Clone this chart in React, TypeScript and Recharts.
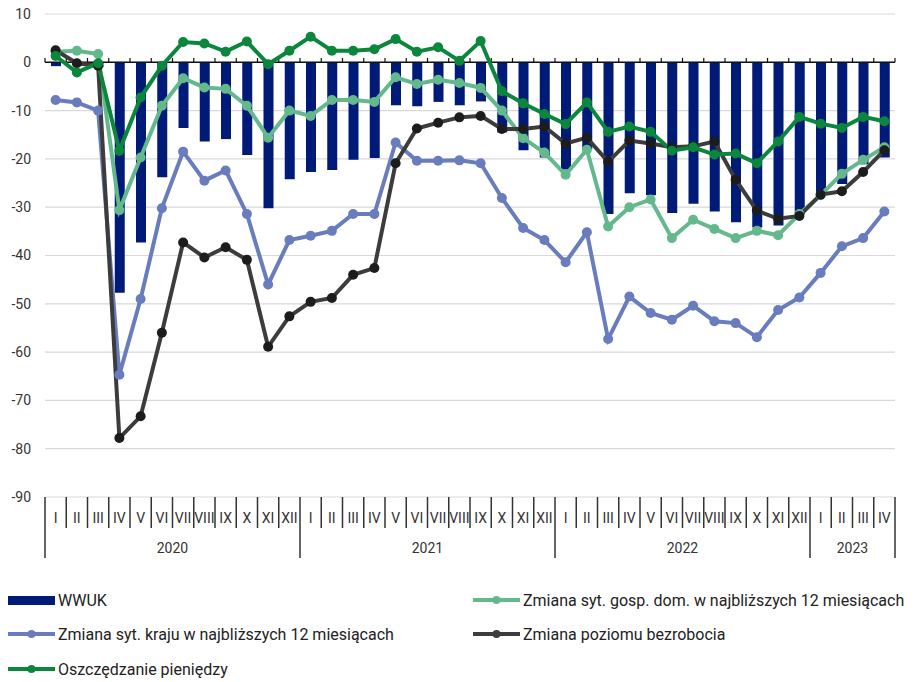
import { ComposedChart, Bar, Line, XAxis, YAxis, CartesianGrid, ReferenceLine } from 'recharts'

const monthLabels = [
  'I', 'II', 'III', 'IV', 'V', 'VI', 'VII', 'VIII', 'IX', 'X', 'XI', 'XII',
  'I', 'II', 'III', 'IV', 'V', 'VI', 'VII', 'VIII', 'IX', 'X', 'XI', 'XII',
  'I', 'II', 'III', 'IV', 'V', 'VI', 'VII', 'VIII', 'IX', 'X', 'XI', 'XII',
  'I', 'II', 'III', 'IV',
]
const years = ['2020', '2021', '2022', '2023']
const monthsPerYear = [12, 12, 12, 4]

const wwuk = [
  -0.8, -0.5, -1, -47.7, -37.3, -23.8, -13.6, -16.4, -15.9, -19.2, -30.2, -24.2,
  -22.7, -22.3, -20.2, -19.8, -8.9, -9.1, -8.2, -8.9, -8.1, -14.5, -18.2, -19.7,
  -22.2, -18.0, -31.4, -27.1, -27.5, -31.2, -29.3, -30.9, -33.1, -34.2, -33.8, -31.5,
  -27.0, -25.2, -21.1, -19.7,
]
const gospDom = [
  2.2, 2.4, 1.7, -30.6, -19.7, -9.0, -3.3, -5.2, -5.5, -9.0, -15.6, -10.0,
  -11.1, -7.8, -7.8, -8.2, -3.1, -4.5, -3.6, -4.3, -5.3, -10.0, -15.7, -18.7,
  -23.3, -18.1, -34.0, -30.0, -28.4, -36.4, -32.6, -34.5, -36.4, -34.9, -35.8, -31.4,
  -27.5, -23.1, -20.2, -17.6,
]
const kraj = [
  -7.8, -8.3, -10.0, -64.7, -49.0, -30.2, -18.5, -24.5, -22.4, -31.4, -46.0, -36.8,
  -35.9, -34.9, -31.4, -31.4, -16.6, -20.4, -20.4, -20.3, -20.9, -28.1, -34.3, -36.8,
  -41.4, -35.2, -57.3, -48.5, -51.9, -53.3, -50.4, -53.6, -54.0, -56.9, -51.3, -48.7,
  -43.6, -38.1, -36.4, -30.9,
]
const bezrobocie = [
  2.5, -0.2, -0.7, -77.8, -73.3, -56.0, -37.3, -40.4, -38.3, -40.9, -58.9, -52.6,
  -49.6, -48.8, -44.0, -42.6, -20.9, -13.7, -12.5, -11.4, -11.1, -13.8, -13.8, -13.3,
  -16.8, -15.6, -20.6, -16.2, -16.8, -17.6, -17.4, -16.4, -24.3, -30.7, -32.4, -31.8,
  -27.4, -26.7, -22.7, -18.2,
]
const oszczedzanie = [
  1.3, -2.1, -0.2, -18.3, -7.3, -0.7, 4.2, 3.9, 2.2, 4.3, -0.4, 2.4,
  5.3, 2.4, 2.4, 2.7, 4.8, 2.2, 3.1, 0.3, 4.4, -6.0, -8.5, -10.7,
  -12.8, -8.3, -14.4, -13.3, -14.4, -18.3, -17.6, -19.1, -18.9, -20.9, -16.4, -11.3,
  -12.7, -13.6, -11.3, -12.2,
]

const yTicks = [-90, -80, -70, -60, -50, -40, -30, -20, -10, 0, 10]

const C_BAR = '#001a78'
const C_GOSP = '#64b98c'
const C_KRAJ = '#687cbe'
const C_BEZR = '#3c3c3c'
const C_OSZ = '#0a873c'
const FONT = 'Roboto, "Noto Sans", sans-serif'

// one slot per month on a numeric axis, x = middle of the slot
const data = monthLabels.map((m, i) => ({
  x: i + 0.5,
  month: m,
  wwuk: wwuk[i],
  gospDom: gospDom[i],
  kraj: kraj[i],
  bezrobocie: bezrobocie[i],
  oszczedzanie: oszczedzanie[i],
}))

const yearEdges: number[] = [0]
const yearMids: { pos: number; label: string }[] = []
monthsPerYear.forEach((n, i) => {
  const start = yearEdges[yearEdges.length - 1]
  yearMids.push({ pos: start + n / 2, label: years[i] })
  yearEdges.push(start + n)
})
const nMonths = monthLabels.length
const edges = Array.from({ length: nMonths + 1 }, (_, k) => k)
const xTicks = Array.from({ length: nMonths * 2 + 1 }, (_, k) => k / 2)

function MonthTick(props: any) {
  const { x, y, payload } = props
  const v = payload.value
  if (Number.isInteger(v)) {
    const isYearEdge = yearEdges.includes(v)
    const year = yearMids.find((d) => d.pos === v)
    return (
      <g>
        <line x1={x} x2={x} y1={y} y2={y + (isYearEdge ? 61 : 31)} stroke="#333" strokeWidth={1.5} />
        {year && (
          <text x={x} y={y + 56} textAnchor="middle" fontSize={14} fill="#333" fontFamily={FONT}>
            {year.label}
          </text>
        )}
      </g>
    )
  }
  return (
    <text x={x} y={y + 26} textAnchor="middle" fontSize={14} fill="#333" fontFamily={FONT}>
      {monthLabels[Math.floor(v)]}
    </text>
  )
}

function LegendIcon({ color, bar }: { color: string; bar?: boolean }) {
  return (
    <svg width={50} height={12} style={{ display: 'block', flex: 'none' }}>
      {bar ? (
        <rect x={0} y={2} width={47} height={9} fill={color} />
      ) : (
        <>
          <line x1={0} x2={47} y1={6} y2={6} stroke={color} strokeWidth={4} />
          <circle cx={23.5} cy={6} r={4} fill={color} />
        </>
      )}
    </svg>
  )
}

function LegendItem({ color, label, bar, left, top }: { color: string; label: string; bar?: boolean; left: number; top: number }) {
  return (
    <div style={{ position: 'absolute', left, top, display: 'flex', alignItems: 'center', height: 20 }}>
      <LegendIcon color={color} bar={bar} />
      <span style={{ fontFamily: FONT, fontSize: 16, color: '#222', whiteSpace: 'nowrap', marginLeft: 0 }}>{label}</span>
    </div>
  )
}

export default function App() {
  return (
    <div style={{ position: 'absolute', left: 0, top: 0, width: 920, height: 682, background: '#fff' }}>
      <ComposedChart width={920} height={567} data={data} margin={{ top: 14, right: 25, bottom: 0, left: 0 }}>
        <CartesianGrid vertical={false} stroke="#d9d9d9" strokeWidth={1.2} />
        <XAxis
          dataKey="x"
          type="number"
          domain={[0, nMonths]}
          ticks={xTicks}
          interval={0}
          height={70}
          axisLine={false}
          tickLine={false}
          tickSize={0}
          tickMargin={0}
          tick={<MonthTick />}
        />
        <YAxis
          domain={[-90, 10]}
          ticks={yTicks}
          interval={0}
          width={45}
          axisLine={false}
          tickLine={false}
          tickMargin={8}
          tick={{ fontSize: 14, fill: '#333', fontFamily: FONT }}
        />
        <Bar dataKey="wwuk" name="WWUK" fill={C_BAR} barSize={10} isAnimationActive={false} />
        <ReferenceLine y={0} stroke="#111" strokeWidth={1.5} />
        {edges.map((k) => (
          <ReferenceLine
            key={k}
            segment={[{ x: k, y: 0 }, { x: k, y: 0.9 }]}
            stroke="#111"
            strokeWidth={1.2}
            ifOverflow="visible"
          />
        ))}
        <Line
          dataKey="kraj"
          name="Zmiana syt. kraju w najbliższych 12 miesiącach"
          stroke={C_KRAJ}
          strokeWidth={4}
          dot={{ r: 5, fill: C_KRAJ, stroke: C_KRAJ, strokeWidth: 0 }}
          isAnimationActive={false}
        />
        <Line
          dataKey="gospDom"
          name="Zmiana syt. gosp. dom. w najbliższych 12 miesiącach"
          stroke={C_GOSP}
          strokeWidth={4}
          dot={{ r: 5, fill: C_GOSP, stroke: C_GOSP, strokeWidth: 0 }}
          isAnimationActive={false}
        />
        <Line
          dataKey="bezrobocie"
          name="Zmiana poziomu bezrobocia"
          stroke={C_BEZR}
          strokeWidth={4}
          dot={{ r: 5, fill: '#1c1c1c', stroke: '#1c1c1c', strokeWidth: 0 }}
          isAnimationActive={false}
        />
        <Line
          dataKey="oszczedzanie"
          name="Oszczędzanie pieniędzy"
          stroke={C_OSZ}
          strokeWidth={4}
          dot={{ r: 5, fill: C_OSZ, stroke: C_OSZ, strokeWidth: 0 }}
          isAnimationActive={false}
        />
      </ComposedChart>
      <LegendItem left={8} top={590} color={C_BAR} bar label="WWUK" />
      <LegendItem left={473} top={590} color={C_GOSP} label="Zmiana syt. gosp. dom. w najbliższych 12 miesiącach" />
      <LegendItem left={8} top={624} color={C_KRAJ} label="Zmiana syt. kraju w najbliższych 12 miesiącach" />
      <LegendItem left={8} top={659} color={C_OSZ} label="Oszczędzanie pieniędzy" />
      <LegendItem left={473} top={624} color={C_BEZR} label="Zmiana poziomu bezrobocia" />
    </div>
  )
}
